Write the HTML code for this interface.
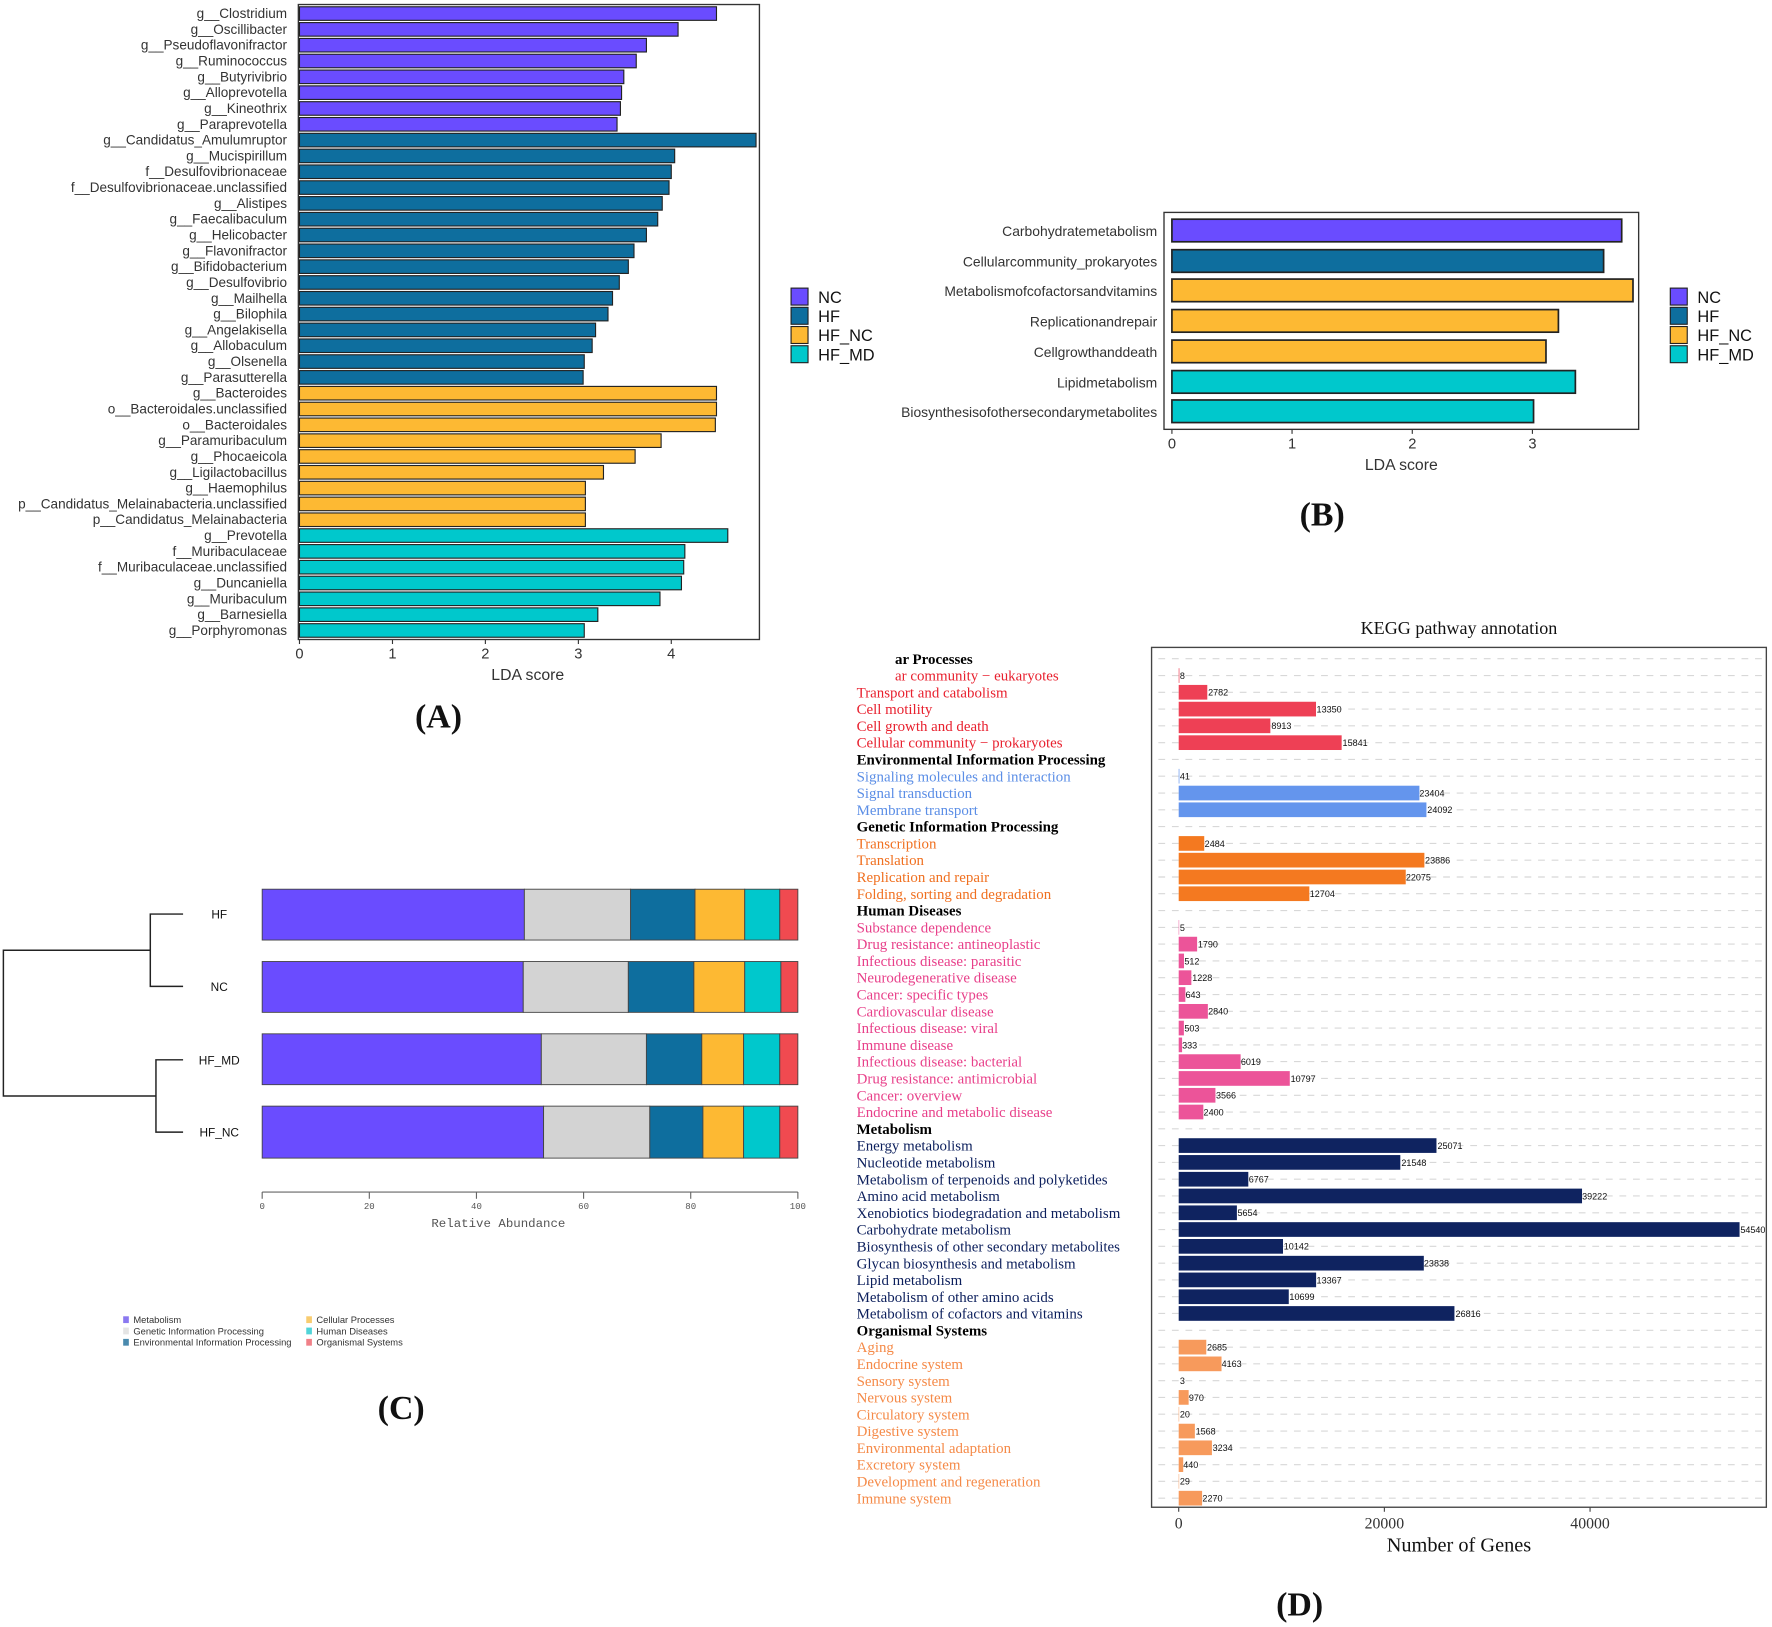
<!DOCTYPE html>
<html><head><meta charset="utf-8"><style>
html,body{margin:0;padding:0;background:#fff;}
svg{display:block;}
.a{font-family:"Liberation Sans",sans-serif;font-size:12px;fill:#333;text-anchor:end;}
.b{font-family:"Liberation Sans",sans-serif;font-size:12.3px;fill:#333;text-anchor:end;}
.t{font-family:"Liberation Sans",sans-serif;font-size:13px;fill:#333;text-anchor:middle;}
.lg{font-family:"Liberation Sans",sans-serif;font-size:14.5px;fill:#111;}
.pl{font-family:"Liberation Serif",serif;font-size:30px;font-weight:bold;text-anchor:middle;fill:#111;}
.d{font-family:"Liberation Serif",serif;font-size:13.2px;}
.h{font-weight:bold;fill:#000;}
.cr{fill:#e8202e;}.ev{fill:#5b8ee6;}.gn{fill:#f07020;}.hd{fill:#e8408a;}.mt{fill:#0c1f5c;}.og{fill:#f58a48;}
.v{font-family:"Liberation Sans",sans-serif;font-size:8px;fill:#111;}
.m{font-family:"Liberation Mono",monospace;fill:#555;}
</style></head><body>
<svg width="1772" height="1627" viewBox="0 0 1568 1440" preserveAspectRatio="none" xmlns="http://www.w3.org/2000/svg">
<rect width="1568" height="1440" fill="#fff"/>

<!-- Panel A -->
<rect x="264" y="4" width="408" height="562" fill="none" stroke="#333" stroke-width="1.2"/>
<g stroke="#222" stroke-width="1">
<g fill="#6a4cff">
<rect x="265" y="6" width="369" height="12"/><rect x="265" y="20" width="335" height="12"/><rect x="265" y="34" width="307" height="12"/><rect x="265" y="48" width="298" height="12"/><rect x="265" y="62" width="287" height="12"/><rect x="265" y="76" width="285" height="12"/><rect x="265" y="90" width="284" height="12"/><rect x="265" y="104" width="281" height="12"/>
</g>
<g fill="#0e6e9e">
<rect x="265" y="118" width="404" height="12"/><rect x="265" y="132" width="332" height="12"/><rect x="265" y="146" width="329" height="12"/><rect x="265" y="160" width="327" height="12"/><rect x="265" y="174" width="321" height="12"/><rect x="265" y="188" width="317" height="12"/><rect x="265" y="202" width="307" height="12"/><rect x="265" y="216" width="296" height="12"/><rect x="265" y="230" width="291" height="12"/><rect x="265" y="244" width="283" height="12"/><rect x="265" y="258" width="277" height="12"/><rect x="265" y="272" width="273" height="12"/><rect x="265" y="286" width="262" height="12"/><rect x="265" y="300" width="259" height="12"/><rect x="265" y="314" width="252" height="12"/><rect x="265" y="328" width="251" height="12"/>
</g>
<g fill="#fdb933">
<rect x="265" y="342" width="369" height="12"/><rect x="265" y="356" width="369" height="12"/><rect x="265" y="370" width="368" height="12"/><rect x="265" y="384" width="320" height="12"/><rect x="265" y="398" width="297" height="12"/><rect x="265" y="412" width="269" height="12"/><rect x="265" y="426" width="253" height="12"/><rect x="265" y="440" width="253" height="12"/><rect x="265" y="454" width="253" height="12"/>
</g>
<g fill="#00c8cc">
<rect x="265" y="468" width="379" height="12"/><rect x="265" y="482" width="341" height="12"/><rect x="265" y="496" width="340" height="12"/><rect x="265" y="510" width="338" height="12"/><rect x="265" y="524" width="319" height="12"/><rect x="265" y="538" width="264" height="12"/><rect x="265" y="552" width="252" height="12"/>
</g>
</g>
<g class="a">
<text x="254" y="16">g__Clostridium</text><text x="254" y="30">g__Oscillibacter</text><text x="254" y="44">g__Pseudoflavonifractor</text><text x="254" y="58">g__Ruminococcus</text><text x="254" y="72">g__Butyrivibrio</text><text x="254" y="86">g__Alloprevotella</text><text x="254" y="100">g__Kineothrix</text><text x="254" y="114">g__Paraprevotella</text><text x="254" y="128">g__Candidatus_Amulumruptor</text><text x="254" y="142">g__Mucispirillum</text><text x="254" y="156">f__Desulfovibrionaceae</text><text x="254" y="170">f__Desulfovibrionaceae.unclassified</text><text x="254" y="184">g__Alistipes</text><text x="254" y="198">g__Faecalibaculum</text><text x="254" y="212">g__Helicobacter</text><text x="254" y="226">g__Flavonifractor</text><text x="254" y="240">g__Bifidobacterium</text><text x="254" y="254">g__Desulfovibrio</text><text x="254" y="268">g__Mailhella</text><text x="254" y="282">g__Bilophila</text><text x="254" y="296">g__Angelakisella</text><text x="254" y="310">g__Allobaculum</text><text x="254" y="324">g__Olsenella</text><text x="254" y="338">g__Parasutterella</text><text x="254" y="352">g__Bacteroides</text><text x="254" y="366">o__Bacteroidales.unclassified</text><text x="254" y="380">o__Bacteroidales</text><text x="254" y="394">g__Paramuribaculum</text><text x="254" y="408">g__Phocaeicola</text><text x="254" y="422">g__Ligilactobacillus</text><text x="254" y="436">g__Haemophilus</text><text x="254" y="450">p__Candidatus_Melainabacteria.unclassified</text><text x="254" y="464">p__Candidatus_Melainabacteria</text><text x="254" y="478">g__Prevotella</text><text x="254" y="492">f__Muribaculaceae</text><text x="254" y="506">f__Muribaculaceae.unclassified</text><text x="254" y="520">g__Duncaniella</text><text x="254" y="534">g__Muribaculum</text><text x="254" y="548">g__Barnesiella</text><text x="254" y="562">g__Porphyromonas</text>
</g>
<g stroke="#333"><line x1="265" y1="566" x2="265" y2="570"/><line x1="347.3" y1="566" x2="347.3" y2="570"/><line x1="429.5" y1="566" x2="429.5" y2="570"/><line x1="511.8" y1="566" x2="511.8" y2="570"/><line x1="594" y1="566" x2="594" y2="570"/></g>
<g class="t"><text x="265" y="583">0</text><text x="347.3" y="583">1</text><text x="429.5" y="583">2</text><text x="511.8" y="583">3</text><text x="594" y="583">4</text><text x="467" y="602" style="font-size:14px">LDA score</text></g>
<g stroke="#222"><rect x="700" y="255" width="15" height="15" fill="#6a4cff"/><rect x="700" y="272" width="15" height="15" fill="#0e6e9e"/><rect x="700" y="289" width="15" height="15" fill="#fdb933"/><rect x="700" y="306" width="15" height="15" fill="#00c8cc"/></g>
<g class="lg"><text x="724" y="268">NC</text><text x="724" y="285">HF</text><text x="724" y="302">HF_NC</text><text x="724" y="319">HF_MD</text></g>
<text class="pl" x="388" y="644">(A)</text>

<!-- Panel B -->
<rect x="1030" y="188" width="420" height="192" fill="none" stroke="#333" stroke-width="1.2"/>
<g stroke="#222" stroke-width="1.5">
<rect x="1037" y="194" width="398" height="20" fill="#6a4cff"/><rect x="1037" y="221" width="382" height="20" fill="#0e6e9e"/><rect x="1037" y="247" width="408" height="20" fill="#fdb933"/><rect x="1037" y="274" width="342" height="20" fill="#fdb933"/><rect x="1037" y="301" width="331" height="20" fill="#fdb933"/><rect x="1037" y="328" width="357" height="20" fill="#00c8cc"/><rect x="1037" y="354" width="320" height="20" fill="#00c8cc"/>
</g>
<g class="b"><text x="1024" y="209">Carbohydratemetabolism</text><text x="1024" y="236">Cellularcommunity_prokaryotes</text><text x="1024" y="262">Metabolismofcofactorsandvitamins</text><text x="1024" y="289">Replicationandrepair</text><text x="1024" y="316">Cellgrowthanddeath</text><text x="1024" y="343">Lipidmetabolism</text><text x="1024" y="369">Biosynthesisofothersecondarymetabolites</text></g>
<g stroke="#333"><line x1="1037" y1="380" x2="1037" y2="384"/><line x1="1143.3" y1="380" x2="1143.3" y2="384"/><line x1="1249.7" y1="380" x2="1249.7" y2="384"/><line x1="1356" y1="380" x2="1356" y2="384"/></g>
<g class="t"><text x="1037" y="397">0</text><text x="1143.3" y="397">1</text><text x="1249.7" y="397">2</text><text x="1356" y="397">3</text><text x="1240" y="416" style="font-size:14px">LDA score</text></g>
<g stroke="#222"><rect x="1478" y="255" width="15" height="15" fill="#6a4cff"/><rect x="1478" y="272" width="15" height="15" fill="#0e6e9e"/><rect x="1478" y="289" width="15" height="15" fill="#fdb933"/><rect x="1478" y="306" width="15" height="15" fill="#00c8cc"/></g>
<g class="lg"><text x="1502" y="268">NC</text><text x="1502" y="285">HF</text><text x="1502" y="302">HF_NC</text><text x="1502" y="319">HF_MD</text></g>
<text class="pl" x="1170" y="465">(B)</text>

<!-- Panel C -->
<g fill="none" stroke="#222" stroke-width="1.3">
<path d="M162 809 H133 V873 H162"/><path d="M162 938 H138 V1002 H162"/><path d="M133 841 H3 V970 H138"/>
</g>
<g class="t" style="font-size:10.5px;fill:#111"><text x="194" y="813">HF</text><text x="194" y="877">NC</text><text x="194" y="942">HF_MD</text><text x="194" y="1006">HF_NC</text></g>
<g stroke="#444" stroke-width="0.8">
<rect x="232" y="787" width="232" height="45" fill="#6a4cff"/><rect x="464" y="787" width="94" height="45" fill="#d3d3d3"/><rect x="558" y="787" width="57" height="45" fill="#0e6e9e"/><rect x="615" y="787" width="44" height="45" fill="#fdb933"/><rect x="659" y="787" width="31" height="45" fill="#00c8cc"/><rect x="690" y="787" width="16" height="45" fill="#f04a50"/>
<rect x="232" y="851" width="231" height="45" fill="#6a4cff"/><rect x="463" y="851" width="93" height="45" fill="#d3d3d3"/><rect x="556" y="851" width="58" height="45" fill="#0e6e9e"/><rect x="614" y="851" width="45" height="45" fill="#fdb933"/><rect x="659" y="851" width="32" height="45" fill="#00c8cc"/><rect x="691" y="851" width="15" height="45" fill="#f04a50"/>
<rect x="232" y="915" width="247" height="45" fill="#6a4cff"/><rect x="479" y="915" width="93" height="45" fill="#d3d3d3"/><rect x="572" y="915" width="49" height="45" fill="#0e6e9e"/><rect x="621" y="915" width="37" height="45" fill="#fdb933"/><rect x="658" y="915" width="32" height="45" fill="#00c8cc"/><rect x="690" y="915" width="16" height="45" fill="#f04a50"/>
<rect x="232" y="979" width="249" height="46" fill="#6a4cff"/><rect x="481" y="979" width="94" height="46" fill="#d3d3d3"/><rect x="575" y="979" width="47" height="46" fill="#0e6e9e"/><rect x="622" y="979" width="36" height="46" fill="#fdb933"/><rect x="658" y="979" width="32" height="46" fill="#00c8cc"/><rect x="690" y="979" width="16" height="46" fill="#f04a50"/>
</g>
<g stroke="#666" stroke-width="1"><line x1="232" y1="1055" x2="706" y2="1055"/><line x1="232" y1="1055" x2="232" y2="1061"/><line x1="326.8" y1="1055" x2="326.8" y2="1061"/><line x1="421.6" y1="1055" x2="421.6" y2="1061"/><line x1="516.4" y1="1055" x2="516.4" y2="1061"/><line x1="611.2" y1="1055" x2="611.2" y2="1061"/><line x1="706" y1="1055" x2="706" y2="1061"/></g>
<g class="m" style="font-size:8px" text-anchor="middle"><text x="232" y="1070">0</text><text x="326.8" y="1070">20</text><text x="421.6" y="1070">40</text><text x="516.4" y="1070">60</text><text x="611.2" y="1070">80</text><text x="706" y="1070">100</text><text x="441" y="1086" style="font-size:11px">Relative Abundance</text></g>
<g><rect x="109" y="1165" width="5" height="6" fill="#8a78f0"/><rect x="109" y="1175" width="5" height="6" fill="#e4e4e4"/><rect x="109" y="1185" width="5" height="6" fill="#4a8aae"/><rect x="271" y="1165" width="5" height="6" fill="#f8cc70"/><rect x="271" y="1175" width="5" height="6" fill="#50d4d8"/><rect x="271" y="1185" width="5" height="6" fill="#f08088"/></g>
<g style="font-family:'Liberation Sans',sans-serif;font-size:8.3px;fill:#333"><text x="118" y="1171">Metabolism</text><text x="118" y="1181">Genetic Information Processing</text><text x="118" y="1191">Environmental Information Processing</text><text x="280" y="1171">Cellular Processes</text><text x="280" y="1181">Human Diseases</text><text x="280" y="1191">Organismal Systems</text></g>
<text class="pl" x="355" y="1256">(C)</text>

<!-- Panel D -->
<text x="1291" y="561" text-anchor="middle" style="font-family:'Liberation Serif',serif;font-size:16px;fill:#111">KEGG pathway annotation</text>
<g stroke="#d8d8d8" stroke-width="1" stroke-dasharray="6 6">
<line x1="1025" y1="583" x2="1560" y2="583"/><line x1="1025" y1="597.9" x2="1560" y2="597.9"/><line x1="1025" y1="612.7" x2="1560" y2="612.7"/><line x1="1025" y1="627.6" x2="1560" y2="627.6"/><line x1="1025" y1="642.4" x2="1560" y2="642.4"/><line x1="1025" y1="657.3" x2="1560" y2="657.3"/><line x1="1025" y1="672.2" x2="1560" y2="672.2"/><line x1="1025" y1="687" x2="1560" y2="687"/><line x1="1025" y1="701.9" x2="1560" y2="701.9"/><line x1="1025" y1="716.7" x2="1560" y2="716.7"/><line x1="1025" y1="731.6" x2="1560" y2="731.6"/><line x1="1025" y1="746.5" x2="1560" y2="746.5"/><line x1="1025" y1="761.3" x2="1560" y2="761.3"/><line x1="1025" y1="776.2" x2="1560" y2="776.2"/><line x1="1025" y1="791" x2="1560" y2="791"/><line x1="1025" y1="805.9" x2="1560" y2="805.9"/><line x1="1025" y1="820.8" x2="1560" y2="820.8"/><line x1="1025" y1="835.6" x2="1560" y2="835.6"/><line x1="1025" y1="850.5" x2="1560" y2="850.5"/><line x1="1025" y1="865.3" x2="1560" y2="865.3"/><line x1="1025" y1="880.2" x2="1560" y2="880.2"/><line x1="1025" y1="895.1" x2="1560" y2="895.1"/><line x1="1025" y1="909.9" x2="1560" y2="909.9"/><line x1="1025" y1="924.8" x2="1560" y2="924.8"/><line x1="1025" y1="939.6" x2="1560" y2="939.6"/><line x1="1025" y1="954.5" x2="1560" y2="954.5"/><line x1="1025" y1="969.4" x2="1560" y2="969.4"/><line x1="1025" y1="984.2" x2="1560" y2="984.2"/><line x1="1025" y1="999.1" x2="1560" y2="999.1"/><line x1="1025" y1="1013.9" x2="1560" y2="1013.9"/><line x1="1025" y1="1028.8" x2="1560" y2="1028.8"/><line x1="1025" y1="1043.7" x2="1560" y2="1043.7"/><line x1="1025" y1="1058.5" x2="1560" y2="1058.5"/><line x1="1025" y1="1073.4" x2="1560" y2="1073.4"/><line x1="1025" y1="1088.2" x2="1560" y2="1088.2"/><line x1="1025" y1="1103.1" x2="1560" y2="1103.1"/><line x1="1025" y1="1118" x2="1560" y2="1118"/><line x1="1025" y1="1132.8" x2="1560" y2="1132.8"/><line x1="1025" y1="1147.7" x2="1560" y2="1147.7"/><line x1="1025" y1="1162.5" x2="1560" y2="1162.5"/><line x1="1025" y1="1177.4" x2="1560" y2="1177.4"/><line x1="1025" y1="1192.3" x2="1560" y2="1192.3"/><line x1="1025" y1="1207.1" x2="1560" y2="1207.1"/><line x1="1025" y1="1222" x2="1560" y2="1222"/><line x1="1025" y1="1236.8" x2="1560" y2="1236.8"/><line x1="1025" y1="1251.7" x2="1560" y2="1251.7"/><line x1="1025" y1="1266.6" x2="1560" y2="1266.6"/><line x1="1025" y1="1281.4" x2="1560" y2="1281.4"/><line x1="1025" y1="1296.3" x2="1560" y2="1296.3"/><line x1="1025" y1="1311.1" x2="1560" y2="1311.1"/><line x1="1025" y1="1326" x2="1560" y2="1326"/>
</g>
<g fill="#ee4055">
<rect x="1043" y="591.4" width="0.6" height="13"/><rect x="1043" y="606.2" width="25.3" height="13"/><rect x="1043" y="621.1" width="121.5" height="13"/><rect x="1043" y="635.9" width="81.1" height="13"/><rect x="1043" y="650.8" width="144.2" height="13"/>
</g>
<g fill="#6495ed">
<rect x="1043" y="680.5" width="0.6" height="13"/><rect x="1043" y="695.4" width="213" height="13"/><rect x="1043" y="710.2" width="219.2" height="13"/>
</g>
<g fill="#f47920">
<rect x="1043" y="740" width="22.6" height="13"/><rect x="1043" y="754.8" width="217.4" height="13"/><rect x="1043" y="769.7" width="200.9" height="13"/><rect x="1043" y="784.5" width="115.6" height="13"/>
</g>
<g fill="#ec5499">
<rect x="1043" y="814.3" width="0.4" height="13"/><rect x="1043" y="829.1" width="16.3" height="13"/><rect x="1043" y="844" width="4.7" height="13"/><rect x="1043" y="858.8" width="11.2" height="13"/><rect x="1043" y="873.7" width="5.9" height="13"/><rect x="1043" y="888.6" width="25.8" height="13"/><rect x="1043" y="903.4" width="4.6" height="13"/><rect x="1043" y="918.3" width="3" height="13"/><rect x="1043" y="933.1" width="54.8" height="13"/><rect x="1043" y="948" width="98.3" height="13"/><rect x="1043" y="962.9" width="32.5" height="13"/><rect x="1043" y="977.7" width="21.8" height="13"/>
</g>
<g fill="#0f2360">
<rect x="1043" y="1007.4" width="228.1" height="13"/><rect x="1043" y="1022.3" width="196.1" height="13"/><rect x="1043" y="1037.2" width="61.6" height="13"/><rect x="1043" y="1052" width="356.9" height="13"/><rect x="1043" y="1066.9" width="51.5" height="13"/><rect x="1043" y="1081.7" width="496.3" height="13"/><rect x="1043" y="1096.6" width="92.3" height="13"/><rect x="1043" y="1111.5" width="216.9" height="13"/><rect x="1043" y="1126.3" width="121.6" height="13"/><rect x="1043" y="1141.2" width="97.4" height="13"/><rect x="1043" y="1156" width="244" height="13"/>
</g>
<g fill="#f79a5c">
<rect x="1043" y="1185.8" width="24.4" height="13"/><rect x="1043" y="1200.6" width="37.9" height="13"/><rect x="1043" y="1230.3" width="8.8" height="13"/><rect x="1043" y="1245.2" width="0.4" height="13"/><rect x="1043" y="1260.1" width="14.3" height="13"/><rect x="1043" y="1274.9" width="29.4" height="13"/><rect x="1043" y="1289.8" width="4" height="13"/><rect x="1043" y="1304.6" width="0.4" height="13"/><rect x="1043" y="1319.5" width="20.7" height="13"/>
</g>
<g class="v">
<text x="1044" y="600.9">8</text><text x="1069" y="615.7">2782</text><text x="1165" y="630.6">13350</text><text x="1125" y="645.4">8913</text><text x="1188" y="660.3">15841</text>
<text x="1044" y="690">41</text><text x="1256" y="704.9">23404</text><text x="1263" y="719.7">24092</text>
<text x="1066" y="749.5">2484</text><text x="1261" y="764.3">23886</text><text x="1244" y="779.2">22075</text><text x="1159" y="794">12704</text>
<text x="1044" y="823.8">5</text><text x="1060" y="838.6">1790</text><text x="1048" y="853.5">512</text><text x="1055" y="868.3">1228</text><text x="1049" y="883.2">643</text><text x="1069" y="898.1">2840</text><text x="1048" y="912.9">503</text><text x="1046" y="927.8">333</text><text x="1098" y="942.6">6019</text><text x="1142" y="957.5">10797</text><text x="1076" y="972.4">3566</text><text x="1065" y="987.2">2400</text>
<text x="1272" y="1016.9">25071</text><text x="1240" y="1031.8">21548</text><text x="1105" y="1046.7">6767</text><text x="1400" y="1061.5">39222</text><text x="1095" y="1076.4">5654</text><text x="1540" y="1091.2">54540</text><text x="1136" y="1106.1">10142</text><text x="1260" y="1121">23838</text><text x="1165" y="1135.8">13367</text><text x="1141" y="1150.7">10699</text><text x="1288" y="1165.5">26816</text>
<text x="1068" y="1195.3">2685</text><text x="1081" y="1210.1">4163</text><text x="1044" y="1225">3</text><text x="1052" y="1239.8">970</text><text x="1044" y="1254.7">20</text><text x="1058" y="1269.6">1568</text><text x="1073" y="1284.4">3234</text><text x="1047" y="1299.3">440</text><text x="1044" y="1314.1">29</text><text x="1064" y="1329">2270</text>
</g>
<rect x="1019" y="573" width="544" height="761" fill="none" stroke="#444" stroke-width="1.2"/>
<g class="d">
<text x="792" y="587.5" class="h">ar Processes</text>
<text x="792" y="602.4" class="cr">ar community − eukaryotes</text>
<text x="758" y="617.2" class="cr">Transport and catabolism</text>
<text x="758" y="632.1" class="cr">Cell motility</text>
<text x="758" y="646.9" class="cr">Cell growth and death</text>
<text x="758" y="661.8" class="cr">Cellular community − prokaryotes</text>
<text x="758" y="676.7" class="h">Environmental Information Processing</text>
<text x="758" y="691.5" class="ev">Signaling molecules and interaction</text>
<text x="758" y="706.4" class="ev">Signal transduction</text>
<text x="758" y="721.2" class="ev">Membrane transport</text>
<text x="758" y="736.1" class="h">Genetic Information Processing</text>
<text x="758" y="751" class="gn">Transcription</text>
<text x="758" y="765.8" class="gn">Translation</text>
<text x="758" y="780.7" class="gn">Replication and repair</text>
<text x="758" y="795.5" class="gn">Folding, sorting and degradation</text>
<text x="758" y="810.4" class="h">Human Diseases</text>
<text x="758" y="825.3" class="hd">Substance dependence</text>
<text x="758" y="840.1" class="hd">Drug resistance: antineoplastic</text>
<text x="758" y="855" class="hd">Infectious disease: parasitic</text>
<text x="758" y="869.8" class="hd">Neurodegenerative disease</text>
<text x="758" y="884.7" class="hd">Cancer: specific types</text>
<text x="758" y="899.6" class="hd">Cardiovascular disease</text>
<text x="758" y="914.4" class="hd">Infectious disease: viral</text>
<text x="758" y="929.3" class="hd">Immune disease</text>
<text x="758" y="944.1" class="hd">Infectious disease: bacterial</text>
<text x="758" y="959" class="hd">Drug resistance: antimicrobial</text>
<text x="758" y="973.9" class="hd">Cancer: overview</text>
<text x="758" y="988.7" class="hd">Endocrine and metabolic disease</text>
<text x="758" y="1003.6" class="h">Metabolism</text>
<text x="758" y="1018.4" class="mt">Energy metabolism</text>
<text x="758" y="1033.3" class="mt">Nucleotide metabolism</text>
<text x="758" y="1048.2" class="mt">Metabolism of terpenoids and polyketides</text>
<text x="758" y="1063" class="mt">Amino acid metabolism</text>
<text x="758" y="1077.9" class="mt">Xenobiotics biodegradation and metabolism</text>
<text x="758" y="1092.7" class="mt">Carbohydrate metabolism</text>
<text x="758" y="1107.6" class="mt">Biosynthesis of other secondary metabolites</text>
<text x="758" y="1122.5" class="mt">Glycan biosynthesis and metabolism</text>
<text x="758" y="1137.3" class="mt">Lipid metabolism</text>
<text x="758" y="1152.2" class="mt">Metabolism of other amino acids</text>
<text x="758" y="1167" class="mt">Metabolism of cofactors and vitamins</text>
<text x="758" y="1181.9" class="h">Organismal Systems</text>
<text x="758" y="1196.8" class="og">Aging</text>
<text x="758" y="1211.6" class="og">Endocrine system</text>
<text x="758" y="1226.5" class="og">Sensory system</text>
<text x="758" y="1241.3" class="og">Nervous system</text>
<text x="758" y="1256.2" class="og">Circulatory system</text>
<text x="758" y="1271.1" class="og">Digestive system</text>
<text x="758" y="1285.9" class="og">Environmental adaptation</text>
<text x="758" y="1300.8" class="og">Excretory system</text>
<text x="758" y="1315.6" class="og">Development and regeneration</text>
<text x="758" y="1330.5" class="og">Immune system</text>
</g>
<g stroke="#444"><line x1="1043" y1="1334" x2="1043" y2="1338"/><line x1="1225" y1="1334" x2="1225" y2="1338"/><line x1="1407" y1="1334" x2="1407" y2="1338"/></g>
<g style="font-family:'Liberation Serif',serif;font-size:14px;fill:#333" text-anchor="middle"><text x="1043" y="1353">0</text><text x="1225" y="1353">20000</text><text x="1407" y="1353">40000</text><text x="1291" y="1373" style="font-size:18px;fill:#111">Number of Genes</text></g>
<text class="pl" x="1150" y="1430">(D)</text>
</svg>
</body></html>
